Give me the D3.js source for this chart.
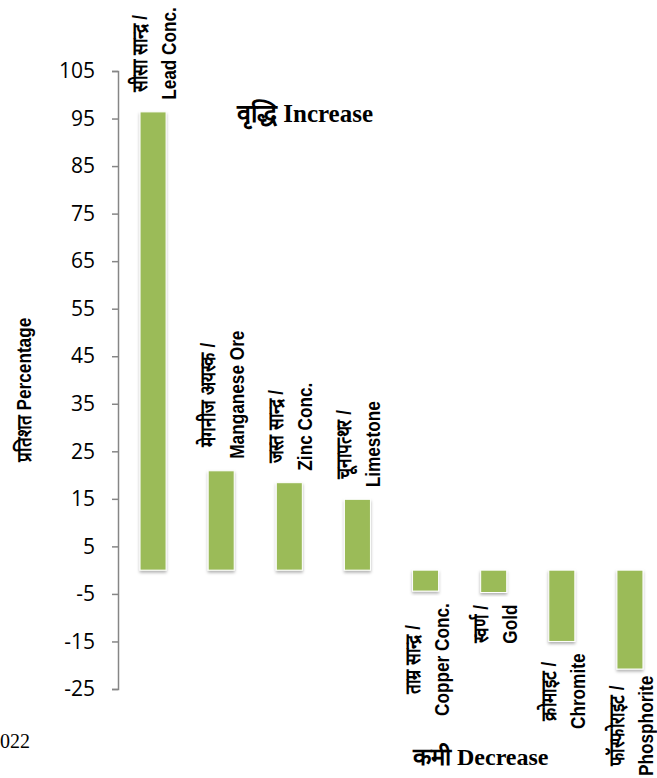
<!DOCTYPE html>
<html>
<head>
<meta charset="utf-8">
<script src="https://cdn.jsdelivr.net/npm/d3@7"></script>
<style>
  body { margin: 0; background: #ffffff; }
</style>
</head>
<body>
<div id="bar-chart"></div>
<script>

//categories, hindi and english parts of each label
var hindiNames = ["सीसा सान्द्र /", "मेगनीज अयस्क /", "जस्त सान्द्र /", "चूनापत्थर /",
                  "ताम्र सान्द्र /", "स्वर्ण /", "क्रोमाइट /", "फॉस्फोराइट /"];
var englishNames = ["Lead Conc.", "Manganese Ore", "Zinc Conc.", "Limestone",
                    "Copper Conc.", "Gold", "Chromite", "Phosphorite"];

//percentage change of each mineral
var changeValues = [96.4, 20.9, 18.4, 14.9, -4.4, -4.7, -15.0, -20.8];

//tick values of the y axis
var yTicks = [-25, -15, -5, 5, 15, 25, 35, 45, 55, 65, 75, 85, 95, 105];

var drawGraph = function(){

	//colors and fonts
	var barColor = "#9BBB59";
	var axisColor = "#868686";
	var tickFont = "'Open Sans', 'Liberation Sans', sans-serif";
	var labelFont = "'Liberation Sans', Arial, sans-serif";
	var serifFont = "'Liberation Serif', 'Times New Roman', serif";

	const width = 657;
	const height = 778;

	var svg = d3.select('#bar-chart')
		.append('svg')
		.attr("width", width)
		.attr("height", height)
		.style('background-color', '#ffffff');

	//soft shadow under the bars
	var filter = svg.append("defs").append("filter")
		.attr("id", "shadow")
		.attr("x", "-20%").attr("y", "-20%")
		.attr("width", "140%").attr("height", "140%");
	filter.append("feDropShadow")
		.attr("dx", 0).attr("dy", 2)
		.attr("stdDeviation", 1.5)
		.attr("flood-color", "#000")
		.attr("flood-opacity", 0.3);

	//scales
	var y = d3.scaleLinear()
		.domain([-25, 105])
		.range([689, 71]);

	var x = d3.scaleBand()
		.domain(d3.range(changeValues.length))
		.range([119, 664])
		.paddingInner(0.618)
		.paddingOuter(0.309);

	//y axis, plain hyphen for the negative ticks
	var axis = svg.append("g")
		.attr("transform", "translate(118,0)")
		.call(d3.axisLeft(y)
			.tickValues(yTicks)
			.tickFormat(function(d){ return String(d); })
			.tickSize(6)
			.tickPadding(17));
	axis.selectAll("path, line")
		.attr("stroke", axisColor)
		.attr("stroke-width", 1.5);
	axis.selectAll("text")
		.attr("fill", "#000")
		.style("font-family", tickFont)
		.style("font-size", "21px");

	//y axis title
	svg.append("text")
		.attr("transform", "translate(31,390) rotate(-90) scale(0.86,1)")
		.attr("text-anchor", "middle")
		.style("font-family", labelFont)
		.style("font-weight", "bold")
		.style("font-size", "20px")
		.text("प्रतिशत Percentage");

	//bars
	svg.append("g").selectAll("rect")
		.data(changeValues)
		.enter().append("rect")
		.attr("x", function(d, i){ return x(i); })
		.attr("y", function(d){ return y(Math.max(d, 0)); })
		.attr("width", x.bandwidth())
		.attr("height", function(d){ return Math.abs(y(d) - y(0)); })
		.attr("fill", barColor)
		.attr("stroke", "#ffffff")
		.attr("stroke-width", 1)
		.attr("filter", "url(#shadow)");

	//two line rotated labels, above positive bars and below negative ones
	var squeeze = 0.82;
	var gap = 12;
	var labels = svg.append("g").selectAll("text")
		.data(changeValues)
		.enter().append("text")
		.attr("text-anchor", "middle")
		.style("font-family", labelFont)
		.style("font-weight", "bold")
		.style("font-size", "21px");

	labels.append("tspan")
		.attr("x", 0).attr("y", -6)
		.text(function(d, i){ return hindiNames[i]; });
	labels.append("tspan")
		.attr("x", 0).attr("y", 23)
		.text(function(d, i){ return englishNames[i]; });

	labels.attr("transform", function(d, i){
		var len = 0;
		d3.select(this).selectAll("tspan").each(function(){
			len = Math.max(len, this.getComputedTextLength() * squeeze);
		});
		var cx = x(i) + x.bandwidth() / 2;
		var cy = d >= 0 ? y(d) - gap - len / 2 : y(d) + gap + len / 2;
		//keep the lowest label inside the picture
		cy = Math.min(cy, height - 2 - len / 2);
		return "translate(" + cx + "," + cy + ") rotate(-90) scale(" + squeeze + ",1)";
	});

	//increase / decrease notes
	svg.append("text")
		.attr("x", 237).attr("y", 122)
		.style("font-family", serifFont)
		.style("font-weight", "bold")
		.style("font-size", "25px")
		.text("वृद्धि Increase");

	svg.append("text")
		.attr("x", 413).attr("y", 765)
		.style("font-family", serifFont)
		.style("font-weight", "bold")
		.style("font-size", "24px")
		.text("कमी Decrease");

	//left over piece of the source note
	svg.append("text")
		.attr("x", 0).attr("y", 748)
		.style("font-family", serifFont)
		.style("font-size", "20px")
		.text("022");

}

	drawGraph();
</script>
</body>
</html>
